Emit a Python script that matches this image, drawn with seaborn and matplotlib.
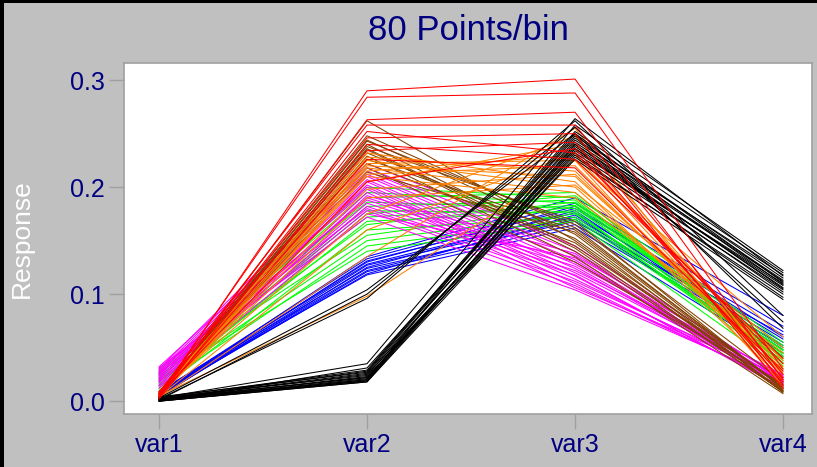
import numpy as np
import pandas as pd
import matplotlib
matplotlib.use("Agg")
import matplotlib.pyplot as plt
import seaborn as sns
from matplotlib.patches import Rectangle

variables = ["var1", "var2", "var3", "var4"]
y_ticks = [0.0, 0.1, 0.2, 0.3]
y_tick_labels = ["0.0", "0.1", "0.2", "0.3"]
title_text = "80 Points/bin"
y_label = "Response"

# ---- series (one list per variable, one entry per line) ----
black_lo_v1 = [0.000, 0.001, 0.002, 0.000, 0.003, 0.001, 0.002, 0.004, 0.000, 0.001, 0.003, 0.002, 0.001, 0.000, 0.002, 0.003, 0.001, 0.002]
black_lo_v2 = [0.018, 0.020, 0.022, 0.019, 0.024, 0.021, 0.025, 0.027, 0.018, 0.023, 0.029, 0.026, 0.020, 0.031, 0.022, 0.035, 0.019, 0.028]
black_lo_v3 = [0.228, 0.232, 0.236, 0.240, 0.244, 0.238, 0.230, 0.248, 0.234, 0.226, 0.252, 0.242, 0.258, 0.246, 0.236, 0.264, 0.240, 0.250]
black_lo_v4 = [0.100, 0.104, 0.108, 0.112, 0.118, 0.106, 0.097, 0.115, 0.110, 0.095, 0.120, 0.113, 0.122, 0.109, 0.102, 0.117, 0.105, 0.111]

black_mid_v1 = [0.002, 0.001, 0.003]
black_mid_v2 = [0.096, 0.100, 0.104]
black_mid_v3 = [0.262, 0.256, 0.250]
black_mid_v4 = [0.080, 0.068, 0.074]

red_v1 = [0.004, 0.006, 0.003, 0.008, 0.005, 0.007, 0.002, 0.009, 0.004, 0.006]
red_v2 = [0.290, 0.284, 0.263, 0.258, 0.252, 0.246, 0.240, 0.234, 0.226, 0.205]
red_v3 = [0.301, 0.288, 0.270, 0.258, 0.232, 0.250, 0.226, 0.242, 0.218, 0.236]
red_v4 = [0.030, 0.020, 0.015, 0.025, 0.035, 0.012, 0.040, 0.018, 0.028, 0.022]

brown_v1 = [0.004, 0.006, 0.005, 0.003, 0.007, 0.005, 0.004, 0.006, 0.008, 0.003, 0.005, 0.007, 0.004, 0.006]
brown_v2 = [0.262, 0.248, 0.244, 0.240, 0.238, 0.235, 0.232, 0.229, 0.226, 0.222, 0.218, 0.214, 0.243, 0.236]
brown_v3 = [0.150, 0.162, 0.156, 0.145, 0.168, 0.140, 0.152, 0.135, 0.160, 0.148, 0.130, 0.158, 0.165, 0.143]
brown_v4 = [0.010, 0.012, 0.008, 0.015, 0.011, 0.009, 0.014, 0.007, 0.013, 0.010, 0.016, 0.012, 0.018, 0.009]

orange_v1 = [0.005, 0.007, 0.004, 0.006, 0.008, 0.005, 0.003, 0.006, 0.007, 0.004, 0.005, 0.006, 0.008, 0.004, 0.003, 0.005]
orange_v2 = [0.232, 0.228, 0.225, 0.222, 0.220, 0.218, 0.215, 0.212, 0.210, 0.205, 0.198, 0.190, 0.175, 0.160, 0.135, 0.098]
orange_v3 = [0.205, 0.215, 0.200, 0.225, 0.210, 0.195, 0.230, 0.220, 0.190, 0.240, 0.212, 0.202, 0.248, 0.232, 0.255, 0.225]
orange_v4 = [0.020, 0.025, 0.030, 0.015, 0.035, 0.040, 0.022, 0.028, 0.045, 0.018, 0.032, 0.050, 0.026, 0.038, 0.012, 0.060]

green_v1 = [0.020, 0.025, 0.015, 0.030, 0.018, 0.022, 0.012, 0.028, 0.016, 0.024, 0.010, 0.027, 0.019, 0.014, 0.021]
green_v2 = [0.200, 0.195, 0.190, 0.186, 0.182, 0.178, 0.175, 0.172, 0.168, 0.165, 0.160, 0.155, 0.150, 0.145, 0.140]
green_v3 = [0.190, 0.185, 0.195, 0.180, 0.188, 0.176, 0.192, 0.183, 0.178, 0.186, 0.172, 0.182, 0.175, 0.170, 0.168]
green_v4 = [0.040, 0.045, 0.035, 0.050, 0.042, 0.038, 0.055, 0.047, 0.033, 0.052, 0.044, 0.036, 0.048, 0.041, 0.030]

blue_v1 = [0.006, 0.008, 0.005, 0.007, 0.009, 0.006, 0.004, 0.008, 0.007, 0.005, 0.006, 0.008]
blue_v2 = [0.135, 0.133, 0.131, 0.130, 0.128, 0.127, 0.125, 0.124, 0.122, 0.121, 0.119, 0.118]
blue_v3 = [0.190, 0.185, 0.180, 0.182, 0.176, 0.172, 0.178, 0.168, 0.170, 0.165, 0.174, 0.162]
blue_v4 = [0.080, 0.070, 0.065, 0.060, 0.058, 0.055, 0.050, 0.062, 0.045, 0.052, 0.048, 0.042]

magenta_v1 = [0.030, 0.028, 0.026, 0.024, 0.032, 0.022, 0.020, 0.018, 0.027, 0.025, 0.015, 0.012, 0.023, 0.029, 0.021, 0.017, 0.031, 0.019, 0.014, 0.026]
magenta_v2 = [0.222, 0.218, 0.215, 0.212, 0.210, 0.207, 0.205, 0.202, 0.200, 0.198, 0.195, 0.192, 0.190, 0.188, 0.185, 0.182, 0.180, 0.178, 0.175, 0.172]
magenta_v3 = [0.145, 0.140, 0.136, 0.132, 0.128, 0.124, 0.120, 0.117, 0.114, 0.110, 0.106, 0.138, 0.130, 0.126, 0.122, 0.118, 0.112, 0.108, 0.134, 0.104]
magenta_v4 = [0.020, 0.018, 0.022, 0.015, 0.024, 0.017, 0.021, 0.013, 0.019, 0.016, 0.023, 0.014, 0.020, 0.018, 0.025, 0.012, 0.022, 0.017, 0.015, 0.019]

groups = [
    ("blue", [blue_v1, blue_v2, blue_v3, blue_v4]),
    ("green", [green_v1, green_v2, green_v3, green_v4]),
    ("magenta", [magenta_v1, magenta_v2, magenta_v3, magenta_v4]),
    ("brown", [brown_v1, brown_v2, brown_v3, brown_v4]),
    ("orange", [orange_v1, orange_v2, orange_v3, orange_v4]),
    ("black_mid", [black_mid_v1, black_mid_v2, black_mid_v3, black_mid_v4]),
    ("black_lo", [black_lo_v1, black_lo_v2, black_lo_v3, black_lo_v4]),
    ("red", [red_v1, red_v2, red_v3, red_v4]),
]
palette = {
    "blue": "#0000FF", "green": "#00FF00", "magenta": "#FF00FF",
    "brown": "#804000", "orange": "#FF8000", "black_mid": "#000000",
    "black_lo": "#000000", "red": "#FF0000",
}

rows = []
uid = 0
for name, cols in groups:
    for i in range(len(cols[0])):
        for vname, col in zip(variables, cols):
            rows.append({"id": uid, "group": name, "var": vname, "value": col[i]})
        uid += 1
df = pd.DataFrame(rows)

sns.set_style("white")
plt.rcParams["font.family"] = ["Liberation Sans", "DejaVu Sans"]

fig = plt.figure(figsize=(8.17, 4.67), dpi=100, facecolor="#C0C0C0")
ax = fig.add_axes([124 / 817, 1 - 414 / 467, 688 / 817, 351 / 467])
ax.set_facecolor("white")

sns.lineplot(data=df, x="var", y="value", hue="group", units="id",
             estimator=None, palette=palette, hue_order=[g[0] for g in groups],
             linewidth=0.75, legend=False, ax=ax, sort=False)

ax.set_xlim(-0.168, 3.139)
ax.set_ylim(-0.012, 0.316)
ax.set_yticks(y_ticks)
ax.set_yticklabels(y_tick_labels)
ax.set_xticks(range(len(variables)))
ax.set_xticklabels(variables)
ax.set_xlabel("")
ax.set_ylabel(y_label, color="white", fontsize=19, labelpad=26)
ax.tick_params(axis="both", direction="out", length=11, width=1, color="#A0A0A0",
               labelcolor="#000080", labelsize=18, pad=3,
               bottom=True, left=True)
for s in ax.spines.values():
    s.set_color("#A0A0A0")
    s.set_linewidth(1.2)

fig.text(468 / 817, 1 - 31 / 467, title_text, ha="center", va="center",
         color="#000080", fontsize=25)

# figure border (left and top dark edges)
fig.patches.append(Rectangle((0, 0), 4 / 817, 1, transform=fig.transFigure,
                             facecolor="black", edgecolor="none", zorder=10))
fig.patches.append(Rectangle((0, 1 - 3 / 467), 1, 3 / 467, transform=fig.transFigure,
                             facecolor="black", edgecolor="none", zorder=10))

fig.savefig("out.png", dpi=100, facecolor=fig.get_facecolor())
